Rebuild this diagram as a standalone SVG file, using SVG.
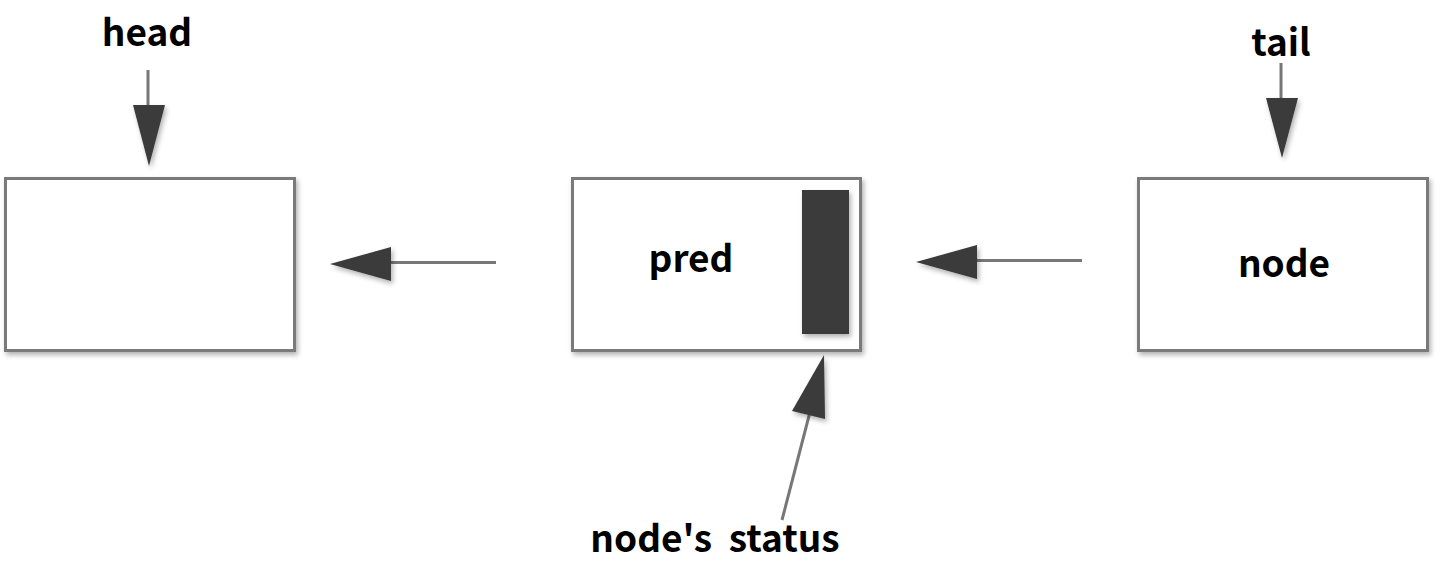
<svg xmlns="http://www.w3.org/2000/svg" width="1442" height="588" viewBox="0 0 1442 588">
<defs>
<filter id="sh" x="-20%" y="-20%" width="140%" height="140%">
<feDropShadow dx="2" dy="3" stdDeviation="2.5" flood-color="#000" flood-opacity="0.3"/>
</filter>
</defs>
<style>
.box{fill:#fff;stroke:#7a7a7a;stroke-width:3;filter:url(#sh)}
.line{stroke:#777;stroke-width:3;fill:none}
.head{fill:#3a3a3a;filter:url(#sh)}
.lbl{font-family:"Noto Sans CJK SC","Source Sans Pro","Noto Sans",sans-serif;font-weight:bold;font-size:37px;fill:#000;text-anchor:middle}
</style>
<rect width="1442" height="588" fill="#fff"/>
<g id="node-head">
<rect class="box" x="5.5" y="178.5" width="289" height="172"/>
</g>
<g id="node-pred">
<rect class="box" x="572.5" y="178.5" width="288" height="172"/>
<rect x="802" y="190" width="47" height="144" fill="#3a3a3a" filter="url(#sh)"/>
<text class="lbl" x="691" y="272">pred</text>
</g>
<g id="node-node">
<rect class="box" x="1138.5" y="178.5" width="289" height="172"/>
<text class="lbl" x="1284" y="277">node</text>
</g>
<g id="label-head"><text class="lbl" x="147" y="46">head</text></g>
<g id="label-tail"><text class="lbl" x="1281" y="56">tail</text></g>
<g id="label-status"><text class="lbl" x="715" y="552" xml:space="preserve">node's  status</text></g>
<g id="connectors">
<line class="line" x1="148" y1="70" x2="148" y2="108"/>
<polygon class="head" points="133,105 165,105 149,166"/>
<line class="line" x1="1281" y1="63" x2="1281" y2="101"/>
<polygon class="head" points="1266,98 1298,98 1282,158"/>
<line class="line" x1="496" y1="262.5" x2="388" y2="262.5"/>
<polygon class="head" points="391,247 391,281 330,264"/>
<line class="line" x1="1082" y1="260.5" x2="974" y2="260.5"/>
<polygon class="head" points="977,245 977,279 916,262"/>
<line class="line" x1="782" y1="520" x2="810" y2="412"/>
<polygon class="head" points="792,411 825,419 824,355"/>
</g>
</svg>
